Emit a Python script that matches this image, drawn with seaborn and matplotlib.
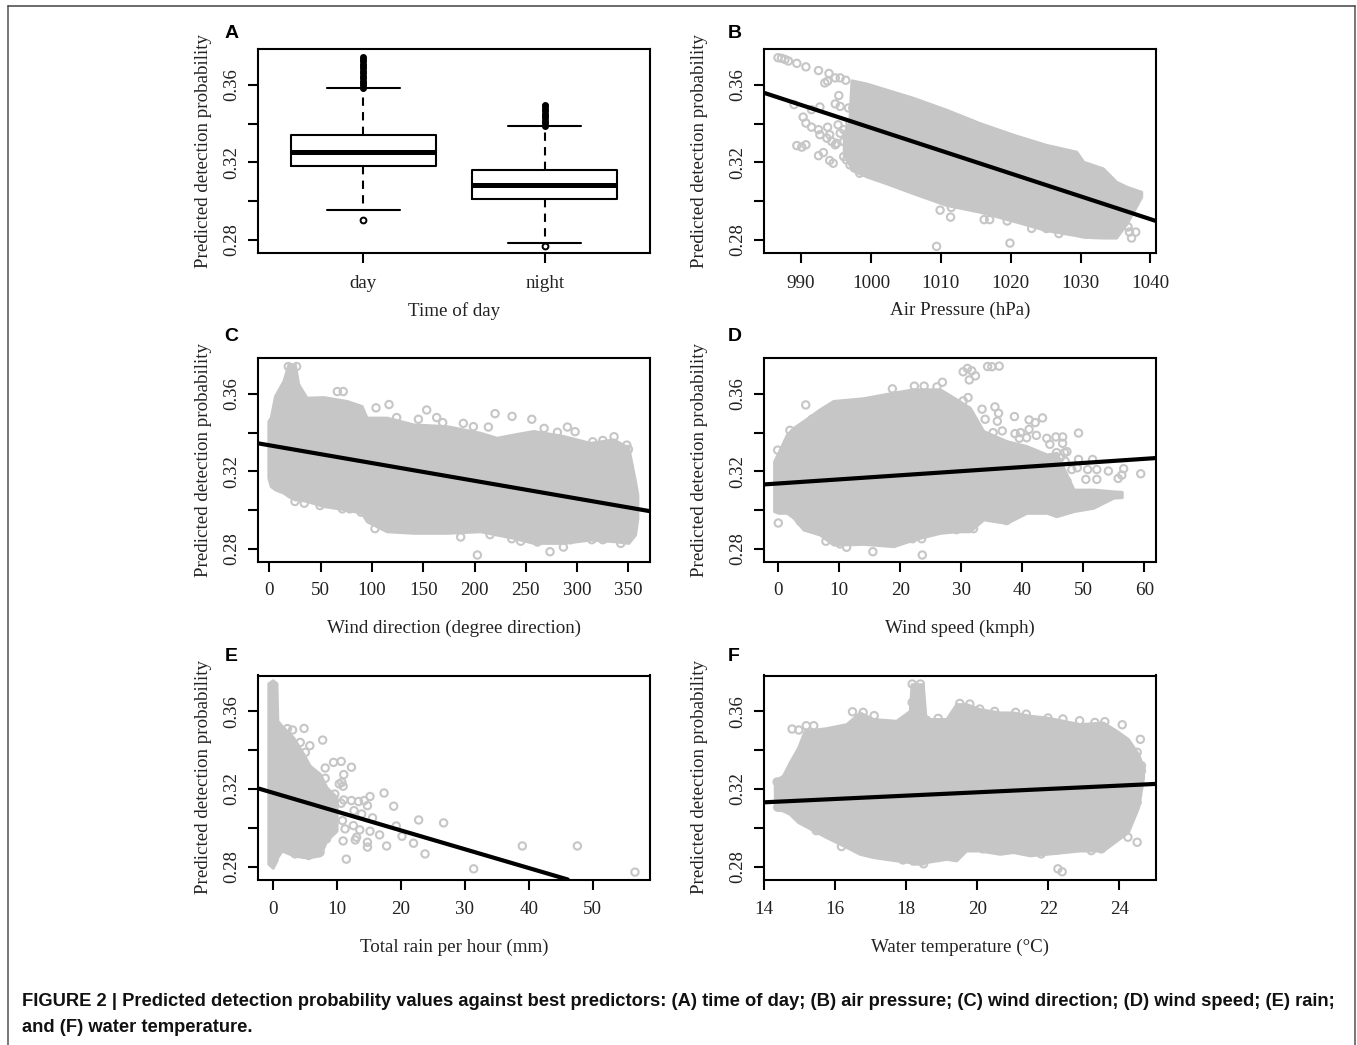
import numpy as np
import pandas as pd
import matplotlib
matplotlib.use("Agg")
import matplotlib.pyplot as plt
from matplotlib.lines import Line2D
import seaborn as sns

# box summaries for panel A (low whisker, q1, median, q3, high whisker)
time_labels = ["day", "night"]
day_box = [0.2954, 0.3182, 0.3253, 0.3343, 0.3583]
night_box = [0.2786, 0.3009, 0.3082, 0.3163, 0.3388]
# lone outliers below the whiskers, dense runs above them
day_low = [0.2904]
night_low = [0.2769]
day_high = [0.3585, 0.3597, 0.3610, 0.3622, 0.3635, 0.3647, 0.3660, 0.3672, 0.3685, 0.3697, 0.3710, 0.3722, 0.3735, 0.3745]
night_high = [0.3390, 0.3402, 0.3415, 0.3427, 0.3440, 0.3452, 0.3465, 0.3477, 0.3490, 0.3498]

# panel B, air pressure: cloud outline and loose points
b_x = [996.1, 996.9, 997.2, 999.4, 1002.2, 1006.1, 1010.8, 1015.6, 1020.4, 1025.1, 1029.4, 1030.4, 1033.2, 1035.1, 1036.6, 1038.7]
b_hi = [0.3351, 0.3410, 0.3624, 0.3607, 0.3576, 0.3533, 0.3472, 0.3403, 0.3343, 0.3291, 0.3256, 0.3204, 0.3170, 0.3101, 0.3075, 0.3049]
b_lo = [0.3240, 0.3190, 0.3161, 0.3127, 0.3092, 0.3040, 0.2980, 0.2945, 0.2898, 0.2850, 0.2824, 0.2816, 0.2812, 0.2812, 0.2885, 0.3023]
b_px = [986.7, 987.2, 987.7, 988.2, 989.4, 990.7, 992.5, 994.0, 993.4, 993.8, 994.9, 995.6, 996.4, 995.4, 994.9, 995.6, 996.8, 997.4,
        992.7, 991.5, 989.0, 990.3, 990.7, 991.5, 992.5, 992.7, 993.8, 994.1, 989.4, 990.1, 990.7, 992.5, 993.2, 994.1, 994.6, 994.9,
        996.1, 997.0, 995.3, 995.6, 998.4, 1009.9, 1011.5, 1011.4, 1016.2, 1017.0, 1019.5, 1023.0, 1025.1, 1026.9, 1032.0, 1009.4,
        1019.9, 1037.0, 1037.9, 1037.3, 1036.8, 998.1, 995.1, 996.1, 996.8, 993.7, 994.4, 996.5, 997.5, 996.1, 997.0]
b_py = [0.3740, 0.3737, 0.3731, 0.3723, 0.3711, 0.3693, 0.3674, 0.3659, 0.3610, 0.3619, 0.3636, 0.3636, 0.3624, 0.3545, 0.3502, 0.3489, 0.3481, 0.3481,
        0.3486, 0.3472, 0.3498, 0.3434, 0.3403, 0.3382, 0.3369, 0.3343, 0.3382, 0.3343, 0.3287, 0.3279, 0.3291, 0.3235, 0.3251, 0.3210, 0.3196, 0.3291,
        0.3230, 0.3187, 0.3394, 0.3351, 0.3144, 0.2954, 0.2968, 0.2918, 0.2905, 0.2905, 0.2898, 0.2860, 0.2859, 0.2833, 0.2829, 0.2767,
        0.2784, 0.2841, 0.2841, 0.2810, 0.2867, 0.3527, 0.3299, 0.3308, 0.3282, 0.3325, 0.3308, 0.3213, 0.3230, 0.3369, 0.3403]
b_fit_x = [984.7, 1040.8]
b_fit_y = [0.3559, 0.2898]

# panel C, wind direction
c_x = [-1, 1.3, 5.5, 13.7, 18.5, 25, 28.3, 36.4, 52.6, 75.4, 90, 94.9, 114.4, 140.4, 172.9, 205.4, 221.6, 237.9, 257.4, 286.6, 312.6, 335.4, 350, 356.5, 358.8]
c_hi = [0.3460, 0.3478, 0.3590, 0.3667, 0.3753, 0.3753, 0.3650, 0.3581, 0.3584, 0.3564, 0.3538, 0.3478, 0.3478, 0.3443, 0.3434, 0.3400, 0.3374, 0.3391, 0.3409, 0.3383, 0.3348, 0.3366, 0.3322, 0.3150, 0.3081]
c_lo = [0.3167, 0.3124, 0.3107, 0.3090, 0.3072, 0.3055, 0.3055, 0.3047, 0.3021, 0.3003, 0.2986, 0.2943, 0.2891, 0.2883, 0.2883, 0.2891, 0.2874, 0.2857, 0.2831, 0.2831, 0.2848, 0.2840, 0.2831, 0.2874, 0.2960]
c_px = [66.3, 72.1, 104.0, 116.7, 153.4, 163.1, 145.3, 169.0, 189.1, 198.9, 213.5, 220.0, 236.6, 255.8, 267.8, 280.8, 290.5, 298.0, 315.2, 325.0, 336.0, 348.4, 350.0,
        25.0, 34.1, 49.4, 71.2, 78.6, 89.4, 103.0, 124.1, 186.5, 202.8, 215.1, 236.3, 245.0, 261.3, 273.6, 286.6, 293.8, 314.3, 325.0, 342.5, 26, 21.8, 26.6, 18.5]
c_py = [0.3612, 0.3612, 0.3528, 0.3545, 0.3517, 0.3478, 0.3469, 0.3452, 0.3448, 0.3431, 0.3429, 0.3498, 0.3484, 0.3469, 0.3422, 0.3402, 0.3429, 0.3405, 0.3353, 0.3360, 0.3379, 0.3336, 0.3314,
        0.3045, 0.3036, 0.3024, 0.3007, 0.3007, 0.2990, 0.2905, 0.3478, 0.2862, 0.2769, 0.2874, 0.2853, 0.2840, 0.2836, 0.2786, 0.2810, 0.2848, 0.2848, 0.2848, 0.2829, 0.3638, 0.3693, 0.3741, 0.3741]
c_fit_x = [-11, 371]
c_fit_y = [0.3345, 0.2995]

# panel D, wind speed
d_x = [-0.7, 0, 1.4, 2.5, 4.1, 6.8, 9.0, 13.9, 18.9, 22.1, 26.5, 29.2, 31.4, 33.6, 37.4, 40.7, 44.0, 45.6, 48.4, 51.6, 54.9, 56.3]
d_hi = [0.3253, 0.3297, 0.3391, 0.3426, 0.3460, 0.3521, 0.3564, 0.3578, 0.3607, 0.3624, 0.3624, 0.3572, 0.3529, 0.3409, 0.3357, 0.3331, 0.3288, 0.3297, 0.3107, 0.3107, 0.3098, 0.3095]
d_lo = [0.2995, 0.2986, 0.2986, 0.2960, 0.2900, 0.2874, 0.2822, 0.2826, 0.2814, 0.2848, 0.2883, 0.2891, 0.2891, 0.2952, 0.2934, 0.2986, 0.2986, 0.2969, 0.2995, 0.3012, 0.3064, 0.3067]
d_px = [4.5, 5.6, 1.9, -0.1, 0, 3.6, 18.7, 22.3, 23.9, 26.0, 26.9, 30.3, 31.0, 31.7, 31.3, 32.3, 34.3, 35.0, 36.2, 31.1, 30.3, 33.4, 35.5, 36.1, 35.9, 33.9,
        38.7, 41.1, 42.1, 43.3, 35.2, 36.7, 38.8, 39.7, 41.1, 39.5, 40.7, 42.3, 44.0, 45.5, 46.6, 49.2, 46.6, 47.3, 49.2, 51.5, 50.7, 52.2, 54.1, 56.6, 56.3, 55.7,
        59.4, 50.4, 52.2, 47.3, 45.6, 15.5, 23.6, 22.0, 23.5, 32.0, 29.2, 37.4, 11.2, 10.1, 7.8, 44.5, 45.6, 46.9, 46.2, 47.0, 48.1, 49.0]
d_py = [0.3543, 0.3471, 0.3412, 0.3310, 0.2934, 0.2943, 0.3626, 0.3640, 0.3640, 0.3636, 0.3660, 0.3714, 0.3731, 0.3719, 0.3672, 0.3693, 0.3741, 0.3740, 0.3743, 0.3581, 0.3564, 0.3521, 0.3533, 0.3500, 0.3459, 0.3469,
        0.3483, 0.3466, 0.3452, 0.3476, 0.3400, 0.3409, 0.3395, 0.3400, 0.3417, 0.3371, 0.3374, 0.3386, 0.3371, 0.3378, 0.3378, 0.3398, 0.3345, 0.3302, 0.3262, 0.3262, 0.3210, 0.3210, 0.3202, 0.3214, 0.3181, 0.3164,
        0.3188, 0.3159, 0.3159, 0.3150, 0.2986, 0.2786, 0.2769, 0.2853, 0.2853, 0.2905, 0.2900, 0.2947, 0.2809, 0.2826, 0.2840, 0.3340, 0.3297, 0.3297, 0.3271, 0.3253, 0.3210, 0.3219]
d_fit_x = [-2.34, 61.9]
d_fit_y = [0.3133, 0.3269]

# panel E, rain
e_x = [-0.7, 0, 0.6, 0.73, 1.4, 3.2, 4.8, 5.8, 7.4, 8.4, 10.0]
e_hi = [0.3745, 0.3761, 0.3745, 0.3552, 0.3526, 0.3466, 0.3380, 0.3320, 0.3277, 0.3209, 0.3157]
e_lo = [0.2814, 0.2793, 0.2831, 0.2848, 0.2882, 0.2857, 0.2848, 0.2848, 0.2857, 0.2934, 0.2985]
e_px = [2.3, 3.1, 4.9, 4.3, 5.8, 7.8, 5.1, 8.2, 9.5, 10.7, 12.3, 11.1, 8.2, 10.4, 11.0, 10.8, 9.7, 10.7, 11.1, 12.3, 13.4, 14.3, 15.2, 14.8, 17.4, 18.9, 12.7, 13.9, 15.6,
        10.9, 9.5, 22.8, 26.7, 19.3, 11.3, 12.6, 13.6, 15.2, 16.7, 20.2, 22.0, 23.8, 17.8, 14.8, 14.8, 12.9, 13.1, 11.0, 11.5, 31.4, 39.0, 47.6, 56.6, 8.4, 7.4, 5.6, 3.5, 7.9]
e_py = [0.3511, 0.3504, 0.3512, 0.3440, 0.3423, 0.3452, 0.3389, 0.3308, 0.3337, 0.3342, 0.3312, 0.3274, 0.3255, 0.3226, 0.3214, 0.3234, 0.3174, 0.3126, 0.3143, 0.3140, 0.3135, 0.3140, 0.3161, 0.3114, 0.3179, 0.3111, 0.3088, 0.3071, 0.3051,
        0.3037, 0.3028, 0.3040, 0.3025, 0.3009, 0.2994, 0.3011, 0.2989, 0.2982, 0.2963, 0.2956, 0.2920, 0.2865, 0.2906, 0.2925, 0.2900, 0.2937, 0.2951, 0.2932, 0.2838, 0.2788, 0.2906, 0.2906, 0.2771, 0.2942, 0.2874, 0.2857, 0.2865, 0.2968]
e_fit_x = [-2.3, 46.1]
e_fit_y = [0.3203, 0.2733]

# panel F, water temperature
f_x = [14.3, 14.53, 14.72, 14.96, 15.14, 15.75, 16.32, 16.69, 17.07, 17.72, 18.10, 18.15, 18.47, 18.55, 19.13, 19.41, 19.69, 20.07, 20.63, 21.01, 21.48, 21.95, 22.88, 23.54, 23.92, 24.24, 24.53, 24.67]
f_hi = [0.3243, 0.3269, 0.3337, 0.3415, 0.3500, 0.3514, 0.3535, 0.3595, 0.3561, 0.3552, 0.3603, 0.3741, 0.3741, 0.3561, 0.3561, 0.3638, 0.3638, 0.3612, 0.3595, 0.3595, 0.3578, 0.3569, 0.3535, 0.3543, 0.3500, 0.3458, 0.3380, 0.3312]
f_lo = [0.3097, 0.3088, 0.3071, 0.3028, 0.3011, 0.2951, 0.2900, 0.2865, 0.2848, 0.2831, 0.2822, 0.2814, 0.2814, 0.2822, 0.2839, 0.2831, 0.2882, 0.2882, 0.2865, 0.2874, 0.2857, 0.2865, 0.2882, 0.2882, 0.2934, 0.2977, 0.3106, 0.3260]
f_px = [14.79, 14.98, 15.19, 15.40, 14.37, 14.39, 15.14, 15.43, 15.66, 15.75, 16.49, 16.79, 17.10, 18.57, 18.90, 18.17, 18.40, 18.40, 18.17, 19.51, 19.79, 20.07, 20.49, 21.08, 21.38, 21.99, 22.41, 22.88, 23.31, 23.59, 24.08,
        24.59, 24.50, 24.62, 24.62, 24.50, 24.38, 24.29, 24.50, 24.38, 24.24, 24.50, 23.90, 23.68, 24.10, 15.47, 16.18, 17.91, 18.49, 21.80, 23.21, 23.49, 22.27, 22.27, 22.39, 20.16, 21.01]
f_py = [0.3509, 0.3504, 0.3526, 0.3526, 0.3236, 0.3106, 0.3372, 0.3363, 0.3389, 0.3380, 0.3598, 0.3595, 0.3578, 0.3555, 0.3564, 0.3741, 0.3741, 0.3672, 0.3646, 0.3641, 0.3638, 0.3612, 0.3600, 0.3595, 0.3586, 0.3566, 0.3561, 0.3552, 0.3543, 0.3547, 0.3531,
        0.3456, 0.3389, 0.3320, 0.3294, 0.3226, 0.3161, 0.3131, 0.3131, 0.3078, 0.2951, 0.2925, 0.2960, 0.2925, 0.2994, 0.2985, 0.2903, 0.2834, 0.2814, 0.2865, 0.2882, 0.2891, 0.2886, 0.2788, 0.2773, 0.2891, 0.2891]
f_fit_x = [14.0, 25.03]
f_fit_y = [0.3131, 0.3226]

y_ticks = [0.28, 0.30, 0.32, 0.34, 0.36]
y_labels = ["0.28", "", "0.32", "", "0.36"]
y_label = "Predicted detection probability"
caption = ("FIGURE 2 | Predicted detection probability values against best predictors: (A) time of day; (B) air pressure; "
           "(C) wind direction; (D) wind speed; (E) rain;\nand (F) water temperature.")

W, H = 1357, 1045
GREY = "#c6c6c6"
SERIF = "Liberation Serif"
INK = "#222222"


def make_axes(left, top):
    return fig.add_axes([left / W, 1 - (top + 204) / H, 392 / W, 204 / H])


def style_axes(ax, letter, xlabel, right_col, tick_pad, label_y, letter_y):
    ax.set_ylim(0.2733, 0.3785)
    ax.set_yticks(y_ticks)
    ax.set_yticklabels(y_labels, rotation=90, va="center", family=SERIF, fontsize=13.5, color=INK)
    ax.tick_params(axis="both", length=7.2, width=1.5, color="black", bottom=True, left=True)
    ax.tick_params(axis="y", pad=5.5)
    ax.tick_params(axis="x", pad=tick_pad, labelsize=13.7)
    for t in ax.get_xticklabels():
        t.set_family(SERIF)
        t.set_color(INK)
    ax.set_xlabel(xlabel, family=SERIF, fontsize=13.7, color=INK)
    ax.xaxis.set_label_coords(0.5, label_y)
    ax.set_ylabel(y_label, family=SERIF, fontsize=13.7, color=INK)
    ax.yaxis.set_label_coords(-0.143 if right_col else -0.118, 0.5)
    for s in ax.spines.values():
        s.set_visible(True)
        s.set_linewidth(1.5)
        s.set_color("black")
    ax.text(-0.092 if right_col else -0.085, letter_y, letter, transform=ax.transAxes, family="Liberation Sans",
            fontweight="bold", fontsize=14, ha="left", va="center", color="black")


def cloud_panel(ax, x, hi, lo, px, py, fit_x, fit_y):
    ax.fill_between(x, lo, hi, facecolor=GREY, edgecolor=GREY, linewidth=2, joinstyle="round", zorder=1)
    sns.scatterplot(x=px, y=py, ax=ax, s=28, facecolor="none", edgecolor=GREY, linewidth=1.5, zorder=2, legend=False)
    sns.lineplot(x=fit_x, y=fit_y, ax=ax, color="black", linewidth=3, zorder=3, errorbar=None, legend=False)


sns.set_style("white")
fig = plt.figure(figsize=(W / 100, H / 100), dpi=100)

# panel A
ax_a = make_axes(258, 49)
box_df = pd.DataFrame({"time": [time_labels[0]] * 5 + [time_labels[1]] * 5, "p": day_box + night_box})
high_df = pd.DataFrame({"time": [time_labels[0]] * len(day_high) + [time_labels[1]] * len(night_high), "p": day_high + night_high})
low_df = pd.DataFrame({"time": time_labels, "p": day_low + night_low})
sns.boxplot(data=box_df, x="time", y="p", ax=ax_a, whis=(0, 100), width=0.8, fill=False, color="black", linewidth=1.5,
            medianprops={"linewidth": 3.6}, whiskerprops={"linestyle": (0, (4, 3))})
sns.stripplot(data=high_df, x="time", y="p", ax=ax_a, jitter=False, size=5, color="black", zorder=3)
sns.stripplot(data=low_df, x="time", y="p", ax=ax_a, jitter=False, size=4.2, color="white", edgecolor="black", linewidth=1.4, zorder=3)
ax_a.set_xlim(-0.58, 1.58)
style_axes(ax_a, "A", "Time of day", False, 9, -0.24, 1.075)

# panel B
ax_b = make_axes(764, 49)
cloud_panel(ax_b, b_x, b_hi, b_lo, b_px, b_py, b_fit_x, b_fit_y)
ax_b.set_xlim(984.7, 1040.8)
ax_b.set_xticks([990, 1000, 1010, 1020, 1030, 1040])
style_axes(ax_b, "B", "Air Pressure (hPa)", True, 9, -0.24, 1.075)

# panel C
ax_c = make_axes(258, 358)
cloud_panel(ax_c, c_x, c_hi, c_lo, c_px, c_py, c_fit_x, c_fit_y)
ax_c.set_xlim(-11, 371)
ax_c.set_xticks(range(0, 351, 50))
style_axes(ax_c, "C", "Wind direction (degree direction)", False, 7.5, -0.285, 1.103)

# panel D
ax_d = make_axes(764, 358)
cloud_panel(ax_d, d_x, d_hi, d_lo, d_px, d_py, d_fit_x, d_fit_y)
ax_d.set_xlim(-2.34, 61.9)
ax_d.set_xticks(range(0, 61, 10))
style_axes(ax_d, "D", "Wind speed (kmph)", True, 7.5, -0.285, 1.103)

# panel E
ax_e = make_axes(258, 675.5)
cloud_panel(ax_e, e_x, e_hi, e_lo, e_px, e_py, e_fit_x, e_fit_y)
ax_e.set_xlim(-2.3, 58.95)
ax_e.set_xticks(range(0, 51, 10))
style_axes(ax_e, "E", "Total rain per hour (mm)", False, 8.5, -0.29, 1.095)

# panel F
ax_f = make_axes(764, 675.5)
cloud_panel(ax_f, f_x, f_hi, f_lo, f_px, f_py, f_fit_x, f_fit_y)
ax_f.set_xlim(14.0, 25.03)
ax_f.set_xticks(range(14, 25, 2))
style_axes(ax_f, "F", "Water temperature (\u00b0C)", True, 8.5, -0.29, 1.095)

fig.text(22.5 / W, 1 - 993 / H, caption, family="Liberation Sans", fontweight="bold", fontsize=13.25, va="top", ha="left",
         linespacing=1.72, color="#111111")

# page frame: open at the bottom
fig.add_artist(Line2D([7.5 / W, 7.5 / W], [0, 1 - 6 / H], color="#777777", linewidth=1.4))
fig.add_artist(Line2D([1355 / W, 1355 / W], [0, 1 - 6 / H], color="#777777", linewidth=1.4))
fig.add_artist(Line2D([7.5 / W, 1355 / W], [1 - 6 / H, 1 - 6 / H], color="#444444", linewidth=1.1))

fig.savefig("out.png", dpi=100)
